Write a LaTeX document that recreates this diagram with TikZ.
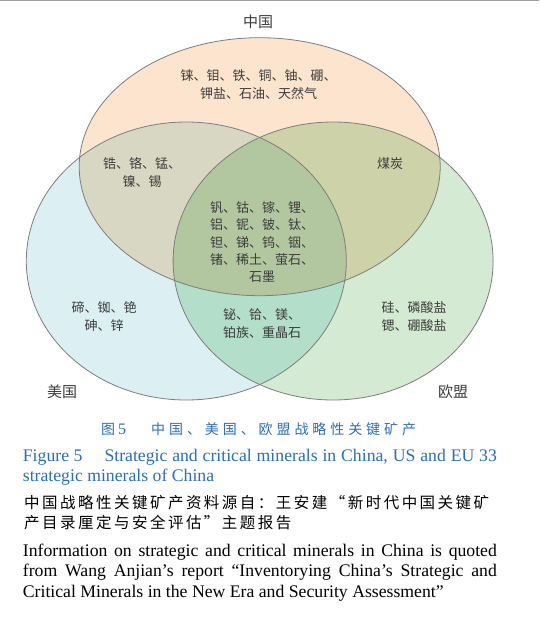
\documentclass[tikz,border=0pt]{standalone}
\usepackage{fontspec}
\setmainfont{Liberation Serif}
\newfontfamily\cjk{Noto Sans CJK SC}
\newfontfamily\cjkls[LetterSpace=16]{Noto Sans CJK SC}
\newfontfamily\cjkcap[LetterSpace=28]{Noto Sans CJK SC}
\definecolor{cOnly}{HTML}{FCE4CE}
\definecolor{uOnly}{HTML}{DCEFF3}
\definecolor{eOnly}{HTML}{D4EAD2}
\definecolor{cuCol}{HTML}{D8D7C4}
\definecolor{ceCol}{HTML}{CDD2A8}
\definecolor{ueCol}{HTML}{B3DECA}
\definecolor{cueCol}{HTML}{B2C7A0}
\definecolor{lineCol}{HTML}{7E7E7E}
\definecolor{txtCol}{HTML}{3C3C3C}
\definecolor{capBlue}{HTML}{2A6EBE}
\tikzset{
  region/.style={inner sep=0pt, text=txtCol, font=\cjk\fontsize{13}{18}\selectfont, align=center},
  setlabel/.style={inner sep=0pt, text=txtCol, font=\cjk\fontsize{15}{18}\selectfont},
  outline/.style={draw=lineCol, line width=0.8pt},
  engtxt/.style={inner sep=0pt, anchor=base west, font=\fontsize{17.7}{20.7}\selectfont},
}
\begin{document}
\begin{tikzpicture}[x=1pt,y=-1pt]
\useasboundingbox (0,0) rectangle (539,627);
\fill[white] (0,0) rectangle (539,627);
\draw[gray!75, line width=1pt] (0,0.5) -- (539,0.5);
% base fills
\fill[cOnly] (259.7,166.7) ellipse [x radius=180.5pt, y radius=129pt];
\fill[uOnly] (186.3,261) ellipse [x radius=160pt, y radius=139pt];
\fill[eOnly] (333.1,261) ellipse [x radius=160pt, y radius=139pt];
% pairwise overlaps
\begin{scope}
  \clip (259.7,166.7) ellipse [x radius=180.5pt, y radius=129pt];
  \fill[cuCol] (186.3,261) ellipse [x radius=160pt, y radius=139pt];
  \fill[ceCol] (333.1,261) ellipse [x radius=160pt, y radius=139pt];
\end{scope}
\begin{scope}
  \clip (186.3,261) ellipse [x radius=160pt, y radius=139pt];
  \fill[ueCol] (333.1,261) ellipse [x radius=160pt, y radius=139pt];
\end{scope}
\begin{scope}
  \clip (259.7,166.7) ellipse [x radius=180.5pt, y radius=129pt];
  \clip (186.3,261) ellipse [x radius=160pt, y radius=139pt];
  \fill[cueCol] (333.1,261) ellipse [x radius=160pt, y radius=139pt];
\end{scope}
% outlines
\draw[outline] (259.7,166.7) ellipse [x radius=180.5pt, y radius=129pt];
\draw[outline] (186.3,261) ellipse [x radius=160pt, y radius=139pt];
\draw[outline] (333.1,261) ellipse [x radius=160pt, y radius=139pt];
% set labels
\node[setlabel] (lc) at (258,22) {中国};
\node[setlabel] (lu) at (62,392) {美国};
\node[setlabel] (le) at (453,392) {欧盟};
% region texts
\node[region] (rc) at (258.5,85) {铼、钼、铁、铜、铀、硼、\\钾盐、石油、天然气};
\node[region] (rcu) at (142,172.5) {锆、铬、锰、\\镍、锡};
\node[region] (rce) at (390,163.3) {煤炭};
\node[region, font=\cjk\fontsize{13}{17.3}\selectfont] (rcue) at (262,242.3) {钒、钴、镓、锂、\\铝、铌、铍、钛、\\钽、锑、钨、铟、\\锗、稀土、萤石、\\石墨};
\node[region] (ru) at (104,316.7) {碲、铷、铯\\砷、锌};
\node[region, font=\cjk\fontsize{13}{17.3}\selectfont] (rue) at (262,323.7) {铋、铪、镁、\\铂族、重晶石};
\node[region] (re) at (414,316.7) {硅、磷酸盐\\锶、硼酸盐};
% caption
\node[inner sep=0pt, anchor=base west, text=capBlue, font=\cjk\fontsize{14}{16}\selectfont] (cap1a) at (101,434.5) {图\hspace{3pt}{\rmfamily\fontsize{16}{16}\selectfont 5}};
\node[inner sep=0pt, anchor=base west, text=capBlue, font=\cjkcap\fontsize{14}{16}\selectfont] (cap1b) at (151,434.5) {中国、美国、欧盟战略性关键矿产};
\node[engtxt, text=capBlue] (cap2a) at (22.7,461.7) {Figure 5};
\node[engtxt, text=capBlue] (cap2b) at (104.3,461.7) {\makebox[392.4pt][s]{Strategic and critical minerals in China, US and EU 33}};
\node[engtxt, text=capBlue] (cap3) at (22.7,481.7) {strategic minerals of China};
\node[inner sep=0pt, anchor=base west, font=\cjkls\fontsize{15.5}{18}\selectfont] (cn1) at (24,508.5) {中国战略性关键矿产资料源自：王安建“新时代中国关键矿};
\node[inner sep=0pt, anchor=base west, font=\cjkls\fontsize{15.5}{18}\selectfont] (cn2) at (24,528.5) {产目录厘定与安全评估”主题报告};
\node[engtxt] (en1) at (22.7,556) {\makebox[474pt][s]{Information on strategic and critical minerals in China is quoted}};
\node[engtxt] (en2) at (22.7,576.7) {\makebox[474pt][s]{from Wang Anjian’s report “Inventorying China’s Strategic and}};
\node[engtxt] (en3) at (22.7,597.3) {Critical Minerals in the New Era and Security Assessment”};
\end{tikzpicture}
\end{document}
